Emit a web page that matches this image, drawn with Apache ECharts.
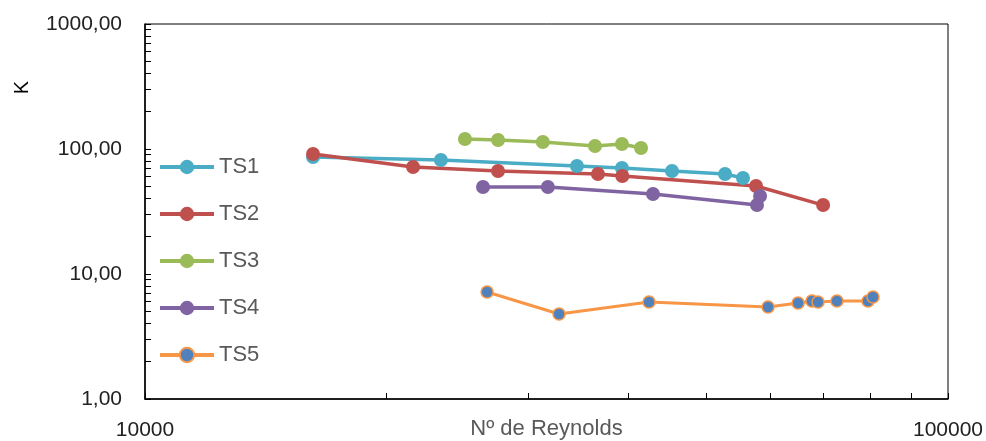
<!DOCTYPE html>
<html>
<head>
<meta charset="utf-8">
<script src="https://cdn.jsdelivr.net/npm/echarts@6/dist/echarts.min.js"></script>
<style>
html,body{margin:0;padding:0;background:#fff;}
#chart{width:986px;height:441px;}
</style>
</head>
<body>
<div id="chart"></div>
<script>
// Reynolds number (x) and K (y) for each series
var ts1Re = [16190, 23360, 34510, 39260, 45320, 52770, 55550];
var ts1K = [86.3, 81.7, 73.1, 70.5, 66.7, 63.1, 58.6];

var ts2Re = [16190, 21570, 27520, 36650, 39300, 57670, 69900];
var ts2K = [91.2, 71.8, 66.7, 63.1, 60.8, 50.6, 35.6];

var ts3Re = [25030, 27520, 31290, 36340, 39260, 41470];
var ts3K = [120.2, 118.0, 113.8, 105.7, 109.6, 101.9];

var ts4Re = [26360, 31750, 42920, 57830, 58340];
var ts4K = [49.7, 49.7, 43.6, 35.6, 42.1];

var ts5Re = [26670, 32780, 42430, 59690, 65060, 67700, 68880, 72730, 79500, 80650];
var ts5K = [7.18, 4.79, 5.97, 5.45, 5.86, 6.08, 5.97, 6.08, 6.08, 6.55];

var xTicks = [10000, 20000, 30000, 40000, 50000, 60000, 70000, 80000, 90000, 100000];
var xLabels = [10000, 100000];
var yTicks = [1, 2, 3, 4, 5, 6, 7, 8, 9, 10, 20, 30, 40, 50, 60, 70, 80, 90,
    100, 200, 300, 400, 500, 600, 700, 800, 900, 1000];
var yLabels = [1, 10, 100, 1000];

function pairs(xs, ys) {
    var out = [];
    for (var i = 0; i < xs.length; i++) out.push([xs[i], ys[i]]);
    return out;
}

var mychart = echarts.init(document.getElementById('chart'));
var font = 'Liberation Sans';

function line(name, xs, ys, color, fill, size, width) {
    return {
        name: name,
        type: 'line',
        data: pairs(xs, ys),
        symbol: 'circle',
        symbolSize: size,
        showSymbol: true,
        lineStyle: { color: color, width: width },
        itemStyle: fill ? { color: fill, borderColor: color, borderWidth: 1.5 } : { color: color },
        emphasis: { disabled: true },
        z: 3
    };
}

var option = {
    animation: false,
    grid: {
        left: 145,
        right: 38,
        top: 24,
        bottom: 42,
        outerBoundsMode: 'none',
        containLabel: false,
        show: true,
        borderColor: '#000',
        borderWidth: 1
    },
    legend: {
        orient: 'vertical',
        left: 158,
        top: 156,
        padding: 0,
        itemWidth: 54,
        itemHeight: 18,
        itemGap: 25,
        lineStyle: { width: 4 },
        textStyle: { fontFamily: font, fontSize: 22, color: '#595959' },
        data: ['TS1', 'TS2', 'TS3', 'TS4', 'TS5']
    },
    graphic: [{
        type: 'text',
        left: 12,
        top: 81,
        rotation: Math.PI / 2,
        style: { text: 'K', fontFamily: font, fontSize: 20, fill: '#000' }
    }],
    xAxis: {
        type: 'log',
        logBase: 10,
        min: 10000,
        max: 100000,
        name: 'Nº de Reynolds',
        nameLocation: 'middle',
        nameGap: 19,
        nameMoveOverlap: false,
        nameTextStyle: { fontFamily: font, fontSize: 22, color: '#595959' },
        axisLine: { lineStyle: { color: '#000', width: 1.5 } },
        axisTick: { inside: true, length: 6, customValues: xTicks, lineStyle: { color: '#000' } },
        axisLabel: {
            customValues: xLabels,
            margin: 21,
            fontFamily: font,
            fontSize: 21,
            color: '#222',
            formatter: function (v) { return String(Math.round(v)); }
        },
        splitLine: { show: false }
    },
    yAxis: {
        type: 'log',
        logBase: 10,
        min: 1,
        max: 1000,
        axisLine: { show: true, lineStyle: { color: '#000', width: 1.5 } },
        axisTick: { show: true, inside: true, length: 6, customValues: yTicks, lineStyle: { color: '#000' } },
        axisLabel: {
            customValues: yLabels,
            margin: 23,
            fontFamily: font,
            fontSize: 21,
            color: '#222',
            formatter: function (v) { return Number(v).toFixed(2).replace('.', ','); }
        },
        splitLine: { show: false }
    },
    series: [
        line('TS1', ts1Re, ts1K, '#4BACC6', null, 14, 3.5),
        line('TS2', ts2Re, ts2K, '#C0504D', null, 14, 3.5),
        line('TS3', ts3Re, ts3K, '#9BBB59', null, 14, 3.5),
        line('TS4', ts4Re, ts4K, '#8064A2', null, 14, 3.5),
        line('TS5', ts5Re, ts5K, '#F79646', '#4F81BD', 12, 3)
    ]
};
mychart.setOption(option);
</script>
</body>
</html>
